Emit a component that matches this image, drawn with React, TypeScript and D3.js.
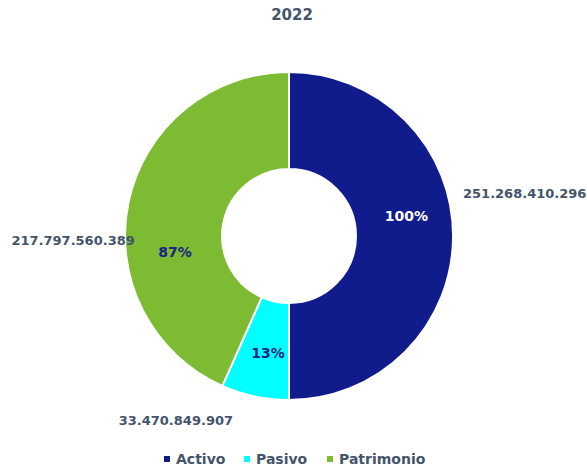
import * as d3 from "d3";
import React, { useEffect, useRef } from "react";

const categories = ["Activo", "Pasivo", "Patrimonio"];
const values = [251268410296, 33470849907, 217797560389];
const valueLabels = ["251.268.410.296", "33.470.849.907", "217.797.560.389"];
const percentLabels = ["100%", "13%", "87%"];
const colors = ["#101C8C", "#00FFFF", "#7DBB33"];
const percentColors = ["#FFFFFF", "#1A2385", "#1A2385"];

const App = () => {
  const ref = useRef<SVGSVGElement | null>(null);

  useEffect(() => {
    const svg = d3.select(ref.current);
    svg.selectAll("*").remove();

    const width = 587;
    const height = 469;
    const cx = 289;
    const cy = 236;
    const outer = 164;
    const inner = 67;
    const font = "'DejaVu Sans', sans-serif";
    const textColor = "#44546A";

    svg.attr("width", width).attr("height", height);

    svg
      .append("text")
      .attr("x", 292)
      .attr("y", 20)
      .attr("text-anchor", "middle")
      .attr("font-family", font)
      .attr("font-weight", "bold")
      .attr("font-size", 15)
      .attr("fill", textColor)
      .text("2022");

    const data = categories.map((c, i) => ({ name: c, value: values[i], i }));

    const pie = d3
      .pie<any>()
      .sort(null)
      .value((d) => d.value);
    const arcs = pie(data);
    const arc = d3.arc<any>().innerRadius(inner).outerRadius(outer);

    const g = svg.append("g").attr("transform", `translate(${cx},${cy})`);

    g.selectAll("path")
      .data(arcs)
      .enter()
      .append("path")
      .attr("d", arc)
      .attr("fill", (d) => colors[d.data.i])
      .attr("stroke", "#fff")
      .attr("stroke-width", 2);

    // percent labels: centroid with small nudges like Excel does
    const pctNudge = [
      [2, -20],
      [3, 4],
      [-1, 40],
    ];
    g.selectAll("text.pct")
      .data(arcs)
      .enter()
      .append("text")
      .attr("class", "pct")
      .attr("x", (d) => arc.centroid(d)[0] + pctNudge[d.data.i][0])
      .attr("y", (d) => arc.centroid(d)[1] + pctNudge[d.data.i][1])
      .attr("dy", "0.35em")
      .attr("text-anchor", "middle")
      .attr("font-family", font)
      .attr("font-weight", "bold")
      .attr("font-size", 14)
      .attr("fill", (d) => percentColors[d.data.i])
      .text((d) => percentLabels[d.data.i]);

    // value labels outside
    const outerArc = d3.arc<any>().innerRadius(outer + 10).outerRadius(outer + 10);
    const valNudge = [
      [0, -43],
      [-77, 14],
      [16, 41],
    ];
    const anchors = ["start", "middle", "end"];
    g.selectAll("text.val")
      .data(arcs)
      .enter()
      .append("text")
      .attr("class", "val")
      .attr("x", (d) => outerArc.centroid(d)[0] + valNudge[d.data.i][0])
      .attr("y", (d) => outerArc.centroid(d)[1] + valNudge[d.data.i][1])
      .attr("dy", "0.35em")
      .attr("text-anchor", (d) => anchors[d.data.i])
      .attr("font-family", font)
      .attr("font-weight", "bold")
      .attr("font-size", 13)
      .attr("fill", textColor)
      .text((d) => valueLabels[d.data.i]);

    // legend
    const legendX = [164, 244, 327];
    const legend = svg
      .selectAll("g.legend")
      .data(categories)
      .enter()
      .append("g")
      .attr("class", "legend")
      .attr("transform", (_, i) => `translate(${legendX[i]},459)`);
    legend
      .append("rect")
      .attr("x", 0)
      .attr("y", -3)
      .attr("width", 6)
      .attr("height", 6)
      .attr("fill", (_, i) => colors[i]);
    legend
      .append("text")
      .attr("x", 12)
      .attr("y", 0)
      .attr("dy", "0.35em")
      .attr("font-family", font)
      .attr("font-weight", "bold")
      .attr("font-size", 14)
      .attr("fill", textColor)
      .text((d) => d);
  }, []);

  return <svg ref={ref} style={{ position: "absolute", left: 0, top: 0 }} />;
};

export default App;
